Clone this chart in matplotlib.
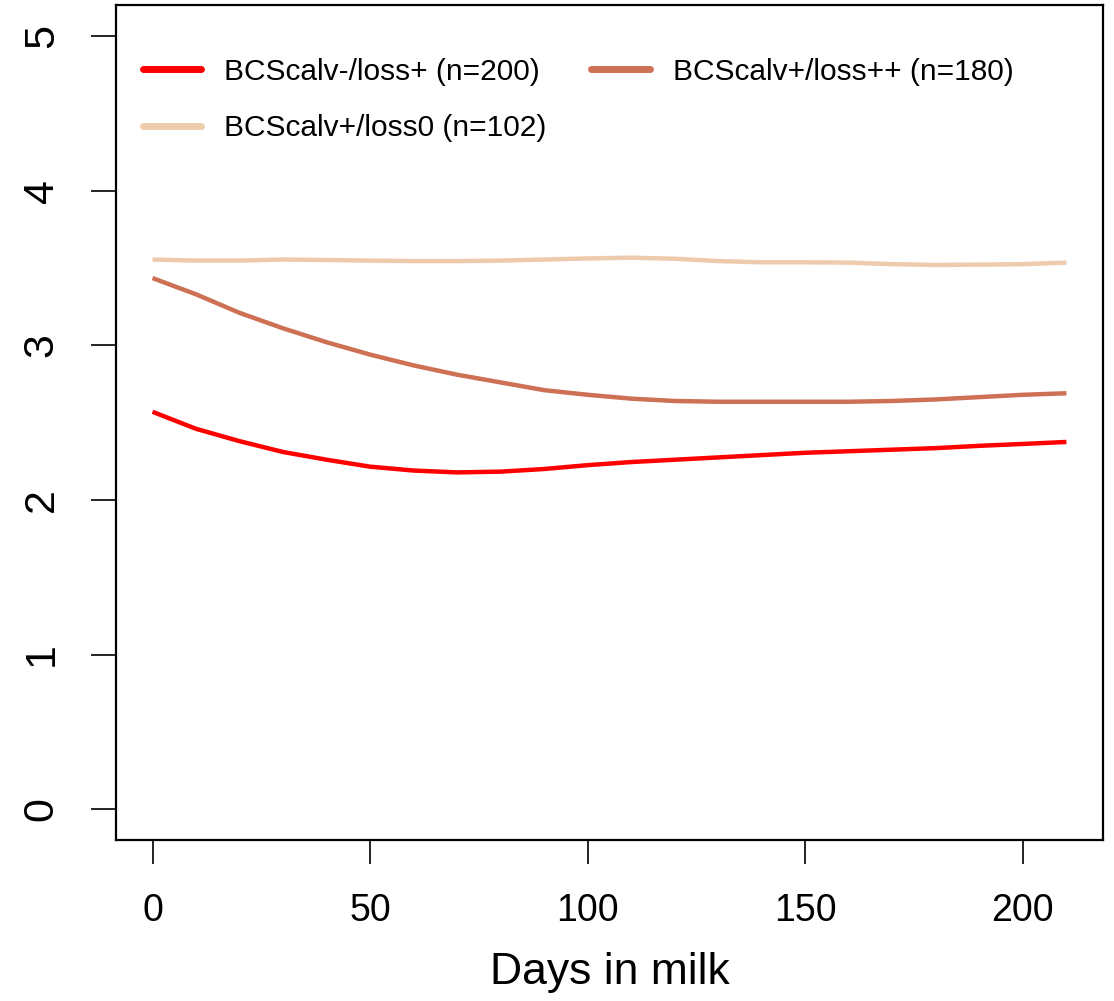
import matplotlib.pyplot as plt
from matplotlib.lines import Line2D

plt.rcParams['font.family'] = ['Liberation Sans', 'DejaVu Sans']

# days in milk
days = [0, 10, 20, 30, 40, 50, 60, 70, 80, 90, 100,
        110, 120, 130, 140, 150, 160, 170, 180, 190, 200, 210]

# BCScalv-/loss+ (n=200)
bcs_minus_loss_plus = [2.57, 2.46, 2.38, 2.31, 2.26, 2.215, 2.19, 2.178, 2.183, 2.20, 2.225,
                       2.245, 2.26, 2.275, 2.29, 2.305, 2.315, 2.325, 2.335, 2.35, 2.362, 2.375]
# BCScalv+/loss++ (n=180)
bcs_plus_loss_pp = [3.435, 3.33, 3.21, 3.11, 3.02, 2.94, 2.87, 2.81, 2.76, 2.71, 2.68,
                    2.655, 2.64, 2.635, 2.635, 2.635, 2.635, 2.64, 2.65, 2.665, 2.68, 2.69]
# BCScalv+/loss0 (n=102)
bcs_plus_loss0 = [3.555, 3.548, 3.548, 3.555, 3.552, 3.548, 3.545, 3.545, 3.548, 3.555, 3.562,
                  3.567, 3.56, 3.545, 3.537, 3.537, 3.535, 3.525, 3.52, 3.522, 3.525, 3.535]

labels = ['BCScalv-/loss+ (n=200)', 'BCScalv+/loss++ (n=180)', 'BCScalv+/loss0 (n=102)']
colors = ['#FF0000', '#CD7054', '#EECBAD']
x_ticks = [0, 50, 100, 150, 200]
y_ticks = [0, 1, 2, 3, 4, 5]

fig = plt.figure(figsize=(11.14, 10.01), dpi=100)
ax = fig.add_axes([0.1041, 0.1608, 0.886, 0.834])

series = [bcs_minus_loss_plus, bcs_plus_loss_pp, bcs_plus_loss0]
for vals, col in zip(series, colors):
    ax.plot(days, vals, color=col, lw=3.2, solid_capstyle='butt')

ax.set_xlim(-8.4, 218.4)
ax.set_ylim(-0.2, 5.2)
ax.set_xticks(x_ticks)
ax.set_yticks(y_ticks)
ax.tick_params(axis='x', length=17, width=1.2, pad=21, labelsize=27)
ax.tick_params(axis='y', length=18, width=1.2, pad=21, labelsize=31)
for lab in ax.get_yticklabels():
    lab.set_rotation(90)
    lab.set_va('center')
for sp in ax.spines.values():
    sp.set_linewidth(1.6)

ax.set_xlabel('Days in milk', fontsize=32, labelpad=17)

# R fills legend by column: red, light in col 1; brown in col 2
handles = [Line2D([], [], color=colors[0], lw=5, solid_capstyle='round'),
           Line2D([], [], color=colors[2], lw=5, solid_capstyle='round'),
           Line2D([], [], color=colors[1], lw=5, solid_capstyle='round')]
leg_labels = [labels[0], labels[2], labels[1]]
ax.legend(handles, leg_labels, ncol=2, loc='upper left', bbox_to_anchor=(0.027, 0.937),
          frameon=False, fontsize=21.5, handlelength=1.95, handletextpad=0.78,
          columnspacing=1.5, labelspacing=0.95, borderpad=0, borderaxespad=0)

fig.savefig('out.png', dpi=100)
